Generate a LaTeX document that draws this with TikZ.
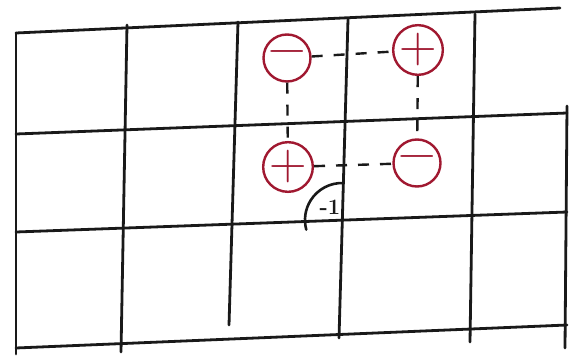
\documentclass[tikz,border=0pt]{standalone}
\usepackage{fontspec}
\usepackage{tikz}
\definecolor{chargered}{RGB}{160,24,48}
\definecolor{pencil}{RGB}{25,25,25}

\begin{document}
\begin{tikzpicture}[x=1pt, y=-1pt,
        gridline/.style={pencil, line width=2.8pt, line cap=round},
        charge/.style={circle, draw=chargered, line width=2.4pt, minimum size=47pt, inner sep=0pt,
            text=chargered, font=\fontsize{52}{52}\selectfont},
        link/.style={pencil, line width=2.4pt, dash pattern=on 11pt off 11pt}]
            \useasboundingbox (0,0) rectangle (569,358);

            % Grid
            \draw[gridline] (16,33) -- (560,8);
            \draw[gridline] (16,134) -- (567,113);
            \draw[gridline] (16,232) -- (567,212);
            \draw[gridline] (16,348) -- (567,325);
            \foreach \xt/\yt/\xb/\yb in {16/33/16/354, 127/25/121/352, 238/22/229/325,
                348/19/339/338, 475/14/470/342, 567/106/565/348}
                \draw[gridline] (\xt,\yt) -- (\xb,\yb);

            % Nodes
            \node[charge] (c1) at (287,58) {−};
            \node[charge] (c2) at (418,50) {+};
            \node[charge] (c3) at (288,167) {+};
            \node[charge] (c4) at (417,163) {−};
            \coordinate (corner) at (342,220);

            % Edges
            \draw[link] (c1) -- (c2);
            \draw[link] (c1) -- (c3);
            \draw[link] (c2) -- (c4);
            \draw[link] (c3) -- (c4);

            \draw[gridline, line width=2.6pt] ([shift={(272:37)}]corner) arc[start angle=272, end angle=165, radius=37];
            \node[pencil, font=\bfseries\fontsize{22}{22}\selectfont] (phase) at (330,207) {-1};
        \end{tikzpicture}
\end{document}
